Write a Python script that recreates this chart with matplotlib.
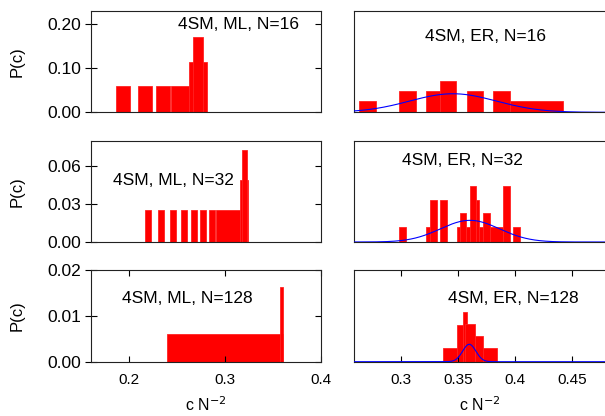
import numpy as np
import matplotlib
matplotlib.use('Agg')
import matplotlib.pyplot as plt

plt.rcParams['font.family'] = ['Liberation Sans', 'DejaVu Sans']
plt.rcParams['font.size'] = 10

# histogram boxes: left edge, right edge, P(c)
ml16_lo = [0.1858, 0.2088, 0.2280, 0.2432, 0.2628, 0.2665]
ml16_hi = [0.2005, 0.2239, 0.2428, 0.2628, 0.2817, 0.2775]
ml16_p = [0.059, 0.059, 0.059, 0.059, 0.115, 0.170]

ml32_lo = [0.2167, 0.2301, 0.2425, 0.2541, 0.2648, 0.2744, 0.2834, 0.2902, 0.3154, 0.3177]
ml32_hi = [0.2226, 0.2363, 0.2487, 0.2603, 0.2706, 0.2803, 0.2896, 0.3154, 0.3239, 0.3232]
ml32_p = [0.025, 0.025, 0.025, 0.025, 0.025, 0.025, 0.025, 0.025, 0.049, 0.0727]

ml128_lo = [0.2391, 0.3572]
ml128_hi = [0.3607, 0.3607]
ml128_p = [0.006, 0.0164]

er16_lo = [0.2634, 0.2985, 0.3219, 0.3342, 0.3576, 0.3810, 0.3956]
er16_hi = [0.2778, 0.3134, 0.3342, 0.3482, 0.3722, 0.3956, 0.4424]
er16_p = [0.0256, 0.0482, 0.0482, 0.0709, 0.0482, 0.0482, 0.0256]

er32_lo = [0.2985, 0.3219, 0.3254, 0.3342, 0.3489, 0.3518, 0.3570, 0.3605,
           0.3658, 0.3687, 0.3722, 0.3781, 0.3897, 0.3985]
er32_hi = [0.3044, 0.3254, 0.3313, 0.3401, 0.3518, 0.3570, 0.3605, 0.3658,
           0.3687, 0.3722, 0.3781, 0.3897, 0.3956, 0.4044]
er32_p = [0.0118, 0.0118, 0.0334, 0.0334, 0.0118, 0.0229, 0.0118, 0.0445,
          0.0334, 0.0118, 0.0229, 0.0118, 0.0445, 0.0118]

er128_lo = [0.3371, 0.3489, 0.3547, 0.3561, 0.3649]
er128_hi = [0.3839, 0.3547, 0.3576, 0.3649, 0.3717]
er128_p = [0.003, 0.0079, 0.0108, 0.0082, 0.0057]

# gaussian fits on the ER panels: mean, sigma, height
er16_fit = (0.3456, 0.038, 0.042)
er32_fit = (0.3605, 0.026, 0.0171)
er128_fit = (0.3599, 0.0058, 0.0038)

labels = ['4SM, ML, N=16', '4SM, ER, N=16', '4SM, ML, N=32',
          '4SM, ER, N=32', '4SM, ML, N=128', '4SM, ER, N=128']


def draw_panel(ax, lo, hi, p):
    ax.bar(lo, p, width=np.subtract(hi, lo), bottom=0, align='edge', color='red',
           edgecolor='#ff2222', linewidth=0.6, clip_on=False, zorder=1)


def draw_fit(ax, fit):
    mu, s, a = fit
    x = np.linspace(ax.get_xlim()[0], ax.get_xlim()[1], 400)
    ax.plot(x, a * np.exp(-(x - mu) ** 2 / (2 * s ** 2)), color='blue', lw=0.8, zorder=3)


fig = plt.figure(figsize=(6.05, 4.16), dpi=100)
lx, lw = 91 / 605, 229.7 / 605
rx, rw = 354 / 605, 252.2 / 605
rows = [((416 - 112.3) / 416, 101.6 / 416),
        ((416 - 242) / 416, 101.3 / 416),
        ((416 - 361.7) / 416, 91.7 / 416)]

axes = []
for b, h in rows:
    axes.append((fig.add_axes([lx, b, lw, h]), fig.add_axes([rx, b, rw, h])))

ylims = [0.23, 0.08, 0.02]
yticks = [[0, 0.1, 0.2], [0, 0.03, 0.06], [0, 0.01, 0.02]]
left_data = [(ml16_lo, ml16_hi, ml16_p), (ml32_lo, ml32_hi, ml32_p), (ml128_lo, ml128_hi, ml128_p)]
right_data = [(er16_lo, er16_hi, er16_p), (er32_lo, er32_hi, er32_p), (er128_lo, er128_hi, er128_p)]
fits = [er16_fit, er32_fit, er128_fit]
text_pos = [((0.644, 0.86), (0.523, 0.744)),
            ((0.357, 0.612), (0.43, 0.80)),
            ((0.419, 0.69), (0.632, 0.69))]

for i, (axl, axr) in enumerate(axes):
    axl.set_xlim(0.16, 0.40)
    axr.set_xlim(0.2588, 0.48)
    for ax in (axl, axr):
        ax.set_ylim(0, ylims[i])
        for sp in ax.spines.values():
            sp.set_linewidth(0.8)
            sp.set_color('#222222')
            sp.set_zorder(2.5)
    draw_panel(axl, *left_data[i])
    draw_panel(axr, *right_data[i])
    draw_fit(axr, fits[i])

    axl.set_yticks(yticks[i])
    axl.set_yticklabels(['%.2f' % t for t in yticks[i]])
    axl.tick_params(axis='y', direction='inout', length=8, width=0.8, labelsize=12.5, pad=3)
    sec = axl.secondary_yaxis('right')
    sec.set_yticks(yticks[i])
    sec.set_yticklabels([])
    sec.tick_params(direction='in', length=4, width=0.8)
    sec.spines['right'].set_visible(False)
    axl.set_ylabel('P(c)', fontsize=12)
    axr.set_yticks([])

    if i == 2:
        axl.set_xticks([0.2, 0.3, 0.4])
        axl.set_xticklabels(['0.2', '0.3', '0.4'])
        axr.set_xticks([0.3, 0.35, 0.4, 0.45])
        axr.set_xticklabels(['0.3', '0.35', '0.4', '0.45'])
        for ax in (axl, axr):
            ax.tick_params(axis='x', direction='in', length=4, width=0.8, top=True,
                           labelsize=11, pad=8)
            ax.set_xlabel('c N$^{-2}$', fontsize=11.5, labelpad=6)
    else:
        axl.set_xticks([])
        axr.set_xticks([])

    axl.text(*text_pos[i][0], labels[2 * i], transform=axl.transAxes,
             ha='center', va='center', fontsize=12.5)
    axr.text(*text_pos[i][1], labels[2 * i + 1], transform=axr.transAxes,
             ha='center', va='center', fontsize=12.5)

for axl, axr in axes:
    axl.yaxis.set_label_coords(-0.29, 0.5)

plt.savefig('out.png', dpi=100)
